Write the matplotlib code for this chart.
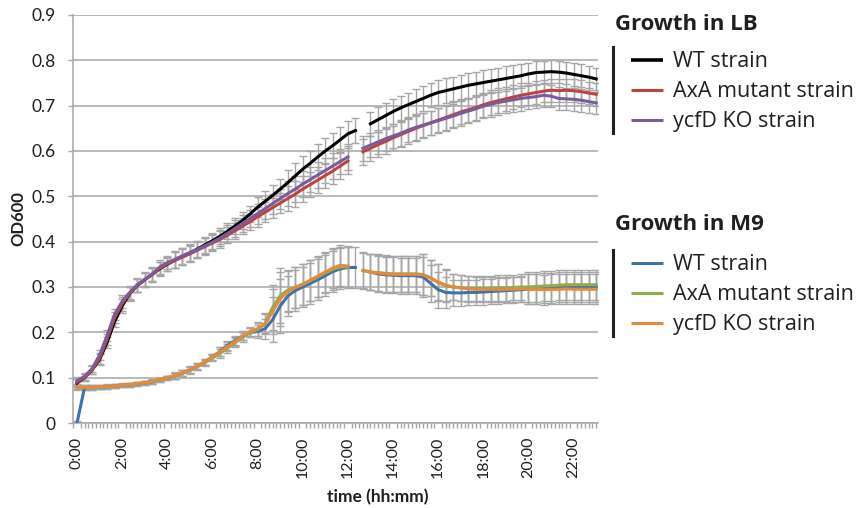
import numpy as np
import matplotlib

matplotlib.use("Agg")
import matplotlib.pyplot as plt
from matplotlib.lines import Line2D

nan = np.nan

# plate reader sampled every 20 min, 0:00 .. 23:00
minutes = np.arange(0, 23 * 60 + 1, 20)

tick_hours = [0, 2, 4, 6, 8, 10, 12, 14, 16, 18, 20, 22]
tick_labels = ["0:00", "2:00", "4:00", "6:00", "8:00", "10:00",
               "12:00", "14:00", "16:00", "18:00", "20:00", "22:00"]

# LB medium
lb_wt = [
    0.088, 0.100, 0.117, 0.140, 0.178, 0.224, 0.258, 0.285, 0.303, 0.316, 0.328, 0.340,
    0.350, 0.359, 0.367, 0.375, 0.384, 0.393, 0.402, 0.412, 0.423, 0.435, 0.447, 0.461,
    0.476, 0.489, 0.502, 0.516, 0.530, 0.545, 0.560, 0.573, 0.587, 0.600, 0.612, 0.625,
    0.638, 0.645, nan, 0.660, 0.669, 0.678, 0.687, 0.695, 0.702, 0.709, 0.716, 0.723,
    0.729, 0.733, 0.737, 0.741, 0.745, 0.748, 0.751, 0.754, 0.757, 0.760, 0.763, 0.766,
    0.770, 0.773, 0.774, 0.775, 0.774, 0.772, 0.769, 0.766, 0.763, 0.759,
]
lb_axa = [
    0.090, 0.100, 0.117, 0.143, 0.185, 0.232, 0.263, 0.286, 0.303, 0.316, 0.327, 0.341,
    0.351, 0.359, 0.366, 0.373, 0.381, 0.389, 0.397, 0.405, 0.414, 0.424, 0.434, 0.444,
    0.455, 0.465, 0.475, 0.485, 0.495, 0.505, 0.516, 0.526, 0.536, 0.546, 0.556, 0.567,
    0.578, nan, 0.598, 0.606, 0.614, 0.621, 0.629, 0.636, 0.643, 0.650, 0.656, 0.662,
    0.668, 0.674, 0.680, 0.686, 0.691, 0.696, 0.702, 0.707, 0.711, 0.715, 0.719, 0.723,
    0.726, 0.729, 0.732, 0.734, 0.733, 0.734, 0.733, 0.731, 0.728, 0.725,
]
lb_ko = [
    0.093, 0.103, 0.120, 0.150, 0.193, 0.240, 0.268, 0.288, 0.305, 0.317, 0.329, 0.344,
    0.354, 0.361, 0.369, 0.376, 0.383, 0.391, 0.399, 0.408, 0.418, 0.429, 0.440, 0.451,
    0.462, 0.473, 0.484, 0.495, 0.506, 0.516, 0.527, 0.537, 0.547, 0.557, 0.567, 0.577,
    0.587, nan, 0.606, 0.613, 0.620, 0.627, 0.633, 0.639, 0.646, 0.652, 0.657, 0.662,
    0.667, 0.672, 0.677, 0.683, 0.688, 0.693, 0.699, 0.703, 0.707, 0.710, 0.713, 0.716,
    0.718, 0.720, 0.723, 0.721, 0.716, 0.715, 0.714, 0.712, 0.709, 0.706,
]
lb_err = [
    0.008, 0.008, 0.008, 0.012, 0.012, 0.012, 0.015, 0.015, 0.015, 0.015, 0.015, 0.015,
    0.015, 0.018, 0.018, 0.018, 0.018, 0.018, 0.018, 0.018, 0.018, 0.018, 0.018, 0.018,
    0.022, 0.022, 0.022, 0.022, 0.028, 0.028, 0.028, 0.028, 0.028, 0.028, 0.028, 0.028,
    0.028, 0.028, 0.028, 0.027, 0.027, 0.027, 0.027, 0.027, 0.027, 0.027, 0.027, 0.027,
    0.027, 0.027, 0.027, 0.027, 0.027, 0.027, 0.027, 0.027, 0.027, 0.027, 0.027, 0.027,
    0.025, 0.025, 0.025, 0.025, 0.025, 0.025, 0.025, 0.025, 0.025, 0.025,
]

# M9 minimal medium
m9_wt = [
    0.000, 0.078, 0.078, 0.079, 0.080, 0.081, 0.083, 0.084, 0.086, 0.088, 0.091, 0.095,
    0.099, 0.104, 0.110, 0.117, 0.125, 0.135, 0.146, 0.158, 0.171, 0.182, 0.192, 0.199,
    0.202, 0.208, 0.228, 0.258, 0.280, 0.292, 0.300, 0.308, 0.316, 0.325, 0.334, 0.340,
    0.343, 0.343, nan, 0.333, 0.329, 0.327, 0.326, 0.325, 0.325, 0.325, 0.322, 0.308,
    0.294, 0.288, 0.287, 0.287, 0.288, 0.288, 0.289, 0.290, 0.291, 0.292, 0.293, 0.294,
    0.295, 0.296, 0.297, 0.298, 0.299, 0.300, 0.300, 0.301, 0.301, 0.300,
]
m9_axa = [
    0.078, 0.078, 0.078, 0.079, 0.080, 0.081, 0.083, 0.084, 0.086, 0.088, 0.091, 0.095,
    0.099, 0.104, 0.109, 0.116, 0.124, 0.133, 0.143, 0.154, 0.165, 0.177, 0.189, 0.199,
    0.206, 0.220, 0.255, 0.281, 0.293, 0.299, 0.306, 0.314, 0.322, 0.331, 0.339, 0.344,
    0.344, nan, 0.336, 0.333, 0.332, 0.330, 0.329, 0.329, 0.329, 0.329, 0.327, 0.320,
    0.310, 0.303, 0.300, 0.298, 0.297, 0.297, 0.297, 0.297, 0.298, 0.298, 0.299, 0.300,
    0.300, 0.301, 0.302, 0.303, 0.304, 0.305, 0.305, 0.305, 0.305, 0.305,
]
m9_ko = [
    0.079, 0.079, 0.079, 0.080, 0.081, 0.082, 0.084, 0.085, 0.087, 0.089, 0.092, 0.096,
    0.100, 0.105, 0.111, 0.118, 0.126, 0.135, 0.146, 0.157, 0.168, 0.180, 0.192, 0.202,
    0.208, 0.218, 0.246, 0.274, 0.290, 0.299, 0.306, 0.315, 0.324, 0.333, 0.342, 0.348,
    0.346, nan, 0.337, 0.333, 0.331, 0.329, 0.328, 0.328, 0.328, 0.328, 0.327, 0.320,
    0.311, 0.304, 0.300, 0.298, 0.296, 0.295, 0.295, 0.295, 0.294, 0.295, 0.295, 0.296,
    0.295, 0.295, 0.294, 0.295, 0.295, 0.296, 0.295, 0.295, 0.295, 0.295,
]
m9_err = [
    0.005, 0.005, 0.005, 0.004, 0.004, 0.004, 0.004, 0.004, 0.004, 0.004, 0.004, 0.004,
    0.004, 0.007, 0.007, 0.007, 0.007, 0.007, 0.007, 0.010, 0.010, 0.010, 0.010, 0.010,
    0.015, 0.022, 0.050, 0.060, 0.045, 0.045, 0.045, 0.045, 0.045, 0.045, 0.045, 0.045,
    0.045, 0.045, 0.040, 0.040, 0.040, 0.040, 0.040, 0.040, 0.040, 0.040, 0.045, 0.040,
    0.040, 0.035, 0.028, 0.028, 0.028, 0.028, 0.028, 0.028, 0.028, 0.028, 0.028, 0.028,
    0.033, 0.033, 0.033, 0.033, 0.033, 0.033, 0.033, 0.033, 0.033, 0.033,
]

LB_SERIES = [
    ("WT strain", lb_wt, "#000000"),
    ("AxA mutant strain", lb_axa, "#b94441"),
    ("ycfD KO strain", lb_ko, "#7a5c9c"),
]
M9_SERIES = [
    ("WT strain", m9_wt, "#3f72ab"),
    ("AxA mutant strain", m9_axa, "#8cae4c"),
    ("ycfD KO strain", m9_ko, "#e5893a"),
]

W, H = 862, 508
GRID = "#a6a6a6"
TEXT = "#1f1f1f"
AXIS_FONT = "Lato"
KEY_FONT = "Open Sans"


def fx(px):
    return px / W


def fy(py):
    return 1 - py / H


def draw_key(fig, title, title_base, first_row, series):
    fig.text(fx(615), fy(title_base), title, fontsize=16, fontweight="bold",
             family=KEY_FONT, color="#231f20", va="baseline", ha="left")
    fig.add_artist(Line2D([fx(613.5), fx(613.5)], [fy(first_row - 13), fy(first_row + 73)],
                          color="#231f20", lw=2.2, transform=fig.transFigure))
    for i, (label, _, color) in enumerate(series):
        y = first_row + 30 * i
        lw = 2.6 if color == "#000000" else 2.2
        fig.add_artist(Line2D([fx(631), fx(663)], [fy(y), fy(y)], color=color, lw=lw,
                              solid_capstyle="butt", transform=fig.transFigure))
        fig.text(fx(673), fy(y + 7), label, fontsize=15.5, family=KEY_FONT,
                 color="#231f20", va="baseline", ha="left")


def main():
    hours = minutes / 60

    fig = plt.figure(figsize=(W / 100, H / 100), dpi=100)
    ax = fig.add_axes([fx(73), fy(423), fx(598) - fx(73), fy(15) - fy(423)])

    for _, values, _ in LB_SERIES:
        ax.errorbar(hours, values, yerr=lb_err, fmt="none", ecolor=GRID,
                    elinewidth=1.0, capsize=2.6, capthick=1.0, zorder=2)
    for _, values, _ in M9_SERIES:
        ax.errorbar(hours, values, yerr=m9_err, fmt="none", ecolor=GRID,
                    elinewidth=1.0, capsize=2.6, capthick=1.0, zorder=2)
    for _, values, color in LB_SERIES + M9_SERIES:
        ax.plot(hours, values, color=color, lw=2.2, zorder=3)

    ax.set_xlim(-0.177, 23.08)
    ax.set_ylim(0, 0.9)

    yticks = np.arange(0, 0.91, 0.1)
    ax.set_yticks(yticks, ["0"] + [f"{v:.1f}" for v in yticks[1:]])
    ax.set_xticks(tick_hours, tick_labels, rotation=90)
    ax.set_xticks(np.arange(-10, 23 * 60 + 10, 10) / 60, minor=True)

    ax.yaxis.grid(True, color=GRID, lw=1.1)
    ax.set_axisbelow(True)
    for side in ("top", "right"):
        ax.spines[side].set_visible(False)
    for side in ("left", "bottom"):
        ax.spines[side].set_color(GRID)
        ax.spines[side].set_linewidth(1.1)

    ax.tick_params(axis="y", length=3.6, width=1.0, color=GRID, pad=9.0,
                   labelsize=12.5, labelcolor=TEXT)
    ax.tick_params(axis="x", which="major", length=0, pad=10, labelsize=11.5,
                   labelcolor=TEXT)
    ax.tick_params(axis="x", which="minor", length=3.6, width=1.0, color=GRID)
    for lbl in ax.get_xticklabels() + ax.get_yticklabels():
        lbl.set_family(AXIS_FONT)

    fig.text(fx(18), fy(219), "OD600", rotation=90, fontsize=12, fontweight="bold",
             family=AXIS_FONT, color=TEXT, ha="center", va="center")
    fig.text(fx(378), fy(497), "time (hh:mm)", fontsize=12.5, fontweight="bold",
             family=AXIS_FONT, color=TEXT, ha="center", va="center")

    draw_key(fig, "Growth in LB", 30, 60, LB_SERIES)
    draw_key(fig, "Growth in M9", 230, 263, M9_SERIES)

    fig.savefig("out.png", dpi=100)
    plt.close(fig)


if __name__ == "__main__":
    main()
